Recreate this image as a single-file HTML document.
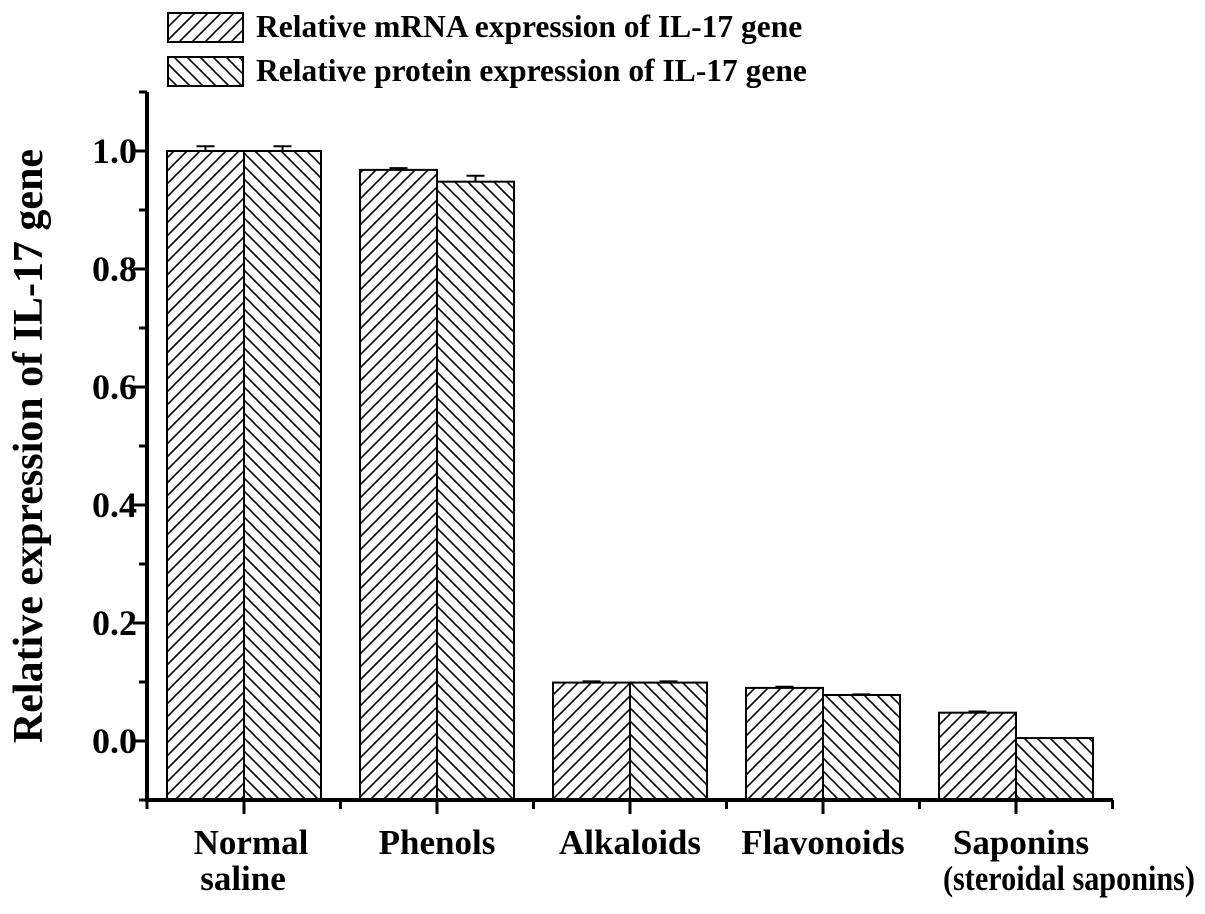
<!DOCTYPE html>
<html><head><meta charset="utf-8"><style>body{margin:0;background:#fff}svg{display:block}text{font-family:"Liberation Serif",serif;font-weight:bold;fill:#000}</style></head>
<body>
<svg id="chart" width="1205" height="914" viewBox="0 0 1205 914">
<defs>
<pattern id="hf" patternUnits="userSpaceOnUse" width="13" height="13"><rect width="13" height="13" fill="#fff"/><path d="M-2,15 L15,-2 M-2,2 L2,-2 M11,15 L15,11" stroke="#000" stroke-width="1.6"/></pattern>
<pattern id="hb" patternUnits="userSpaceOnUse" width="13" height="13"><rect width="13" height="13" fill="#fff"/><path d="M-2,-2 L15,15 M-2,11 L2,15 M11,-2 L15,2" stroke="#000" stroke-width="1.6"/></pattern>
</defs>
<g id="plot"></g>
<g>
<rect x="168" y="13" width="75" height="29" fill="url(#hf)" stroke="#000" stroke-width="2"/>
<text x="256" y="37" font-size="31.5">Relative mRNA expression of IL-17 gene</text>
<rect x="168" y="57" width="75" height="29" fill="url(#hb)" stroke="#000" stroke-width="2"/>
<text x="256" y="81" font-size="31.5">Relative protein expression of IL-17 gene</text>
</g>
<text transform="translate(42,446) rotate(-90)" text-anchor="middle" font-size="42">Relative expression of IL-17 gene</text>
</svg>
<script>
const categories=[["Normal","saline"],["Phenols"],["Alkaloids"],["Flavonoids"],["Saponins","(steroidal saponins)"]];
const mrnaValues=[1.0,0.968,0.099,0.09,0.048];
const mrnaErrors=[0.008,0.003,0.002,0.002,0.002];
const proteinValues=[1.0,0.948,0.099,0.078,0.005];
const proteinErrors=[0.008,0.01,0.002,0.001,0.0];
const yTicks=[0.0,0.2,0.4,0.6,0.8,1.0];
const yMin=-0.1,yMax=1.1;
const X0=147,X1=1113,Ytop=92,Ybot=800;
const ns="http://www.w3.org/2000/svg";
const g=document.getElementById('plot');
function y(v){return Ybot-(v-yMin)/(yMax-yMin)*(Ybot-Ytop);}
const step=193;
function cx(i){return X0+97+i*step;}
const bw=77;
function mk(t,a){const e=document.createElementNS(ns,t);for(const k in a)e.setAttribute(k,a[k]);g.appendChild(e);return e;}
function drawBar(i,v,err,off,fill,name){
  const x=cx(i)+off;
  const eb=mk('line',{x1:x+bw/2,x2:x+bw/2,y1:y(v),y2:y(v+err),stroke:'#000','stroke-width':2});
  
  
  const cap=mk('line',{x1:x+bw/2-9,x2:x+bw/2+9,y1:y(v+err),y2:y(v+err),stroke:'#000','stroke-width':2});
  
  
  const r=mk('rect',{x:x,y:y(v),width:bw,height:Ybot-y(v),fill:fill,stroke:'#000','stroke-width':2});
  
  
}
categories.forEach((c,i)=>{
  drawBar(i,mrnaValues[i],mrnaErrors[i],-bw,'url(#hf)','bar-mrna-'+i);
  drawBar(i,proteinValues[i],proteinErrors[i],0,'url(#hb)','bar-protein-'+i);
  c.forEach((ln,j)=>{
    let dx=0;
    if(i==0)dx=j==0?7:-1;
    if(i==4)dx=j==0?5:53;
    const t=mk('text',{x:cx(i)+dx,y:854+j*36,'text-anchor':'middle','font-size':35});
    if(i==4&&j==1){t.setAttribute('textLength',252);t.setAttribute('lengthAdjust','spacingAndGlyphs');}
    t.textContent=ln;
    
    
  });
  const tk=mk('line',{x1:cx(i),x2:cx(i),y1:Ybot,y2:Ybot+14,stroke:'#000','stroke-width':3});
  
  
  const mt=mk('line',{x1:cx(i)+step/2,x2:cx(i)+step/2,y1:Ybot,y2:Ybot+9,stroke:'#000','stroke-width':3});
  
  
});
const t0=mk('line',{x1:X0,x2:X0,y1:Ybot,y2:Ybot+9,stroke:'#000','stroke-width':3});


for(let v=-0.1;v<1.15;v+=0.1){
  const major=yTicks.some(t=>Math.abs(t-v)<1e-6);
  const l=mk('line',{x1:X0-(major?14:8),x2:X0,y1:y(v),y2:y(v),stroke:'#000','stroke-width':3});
  
  
}
yTicks.forEach(v=>{
  const t=mk('text',{x:X0-10,y:y(v)+12,'text-anchor':'end','font-size':36});
  t.textContent=v.toFixed(1);
  
  
});
const ya=mk('line',{x1:X0,x2:X0,y1:Ytop,y2:Ybot+1.5,stroke:'#000','stroke-width':4});


const xa=mk('line',{x1:X0-2,x2:X1,y1:Ybot,y2:Ybot,stroke:'#000','stroke-width':4});


</script>
</body></html>
